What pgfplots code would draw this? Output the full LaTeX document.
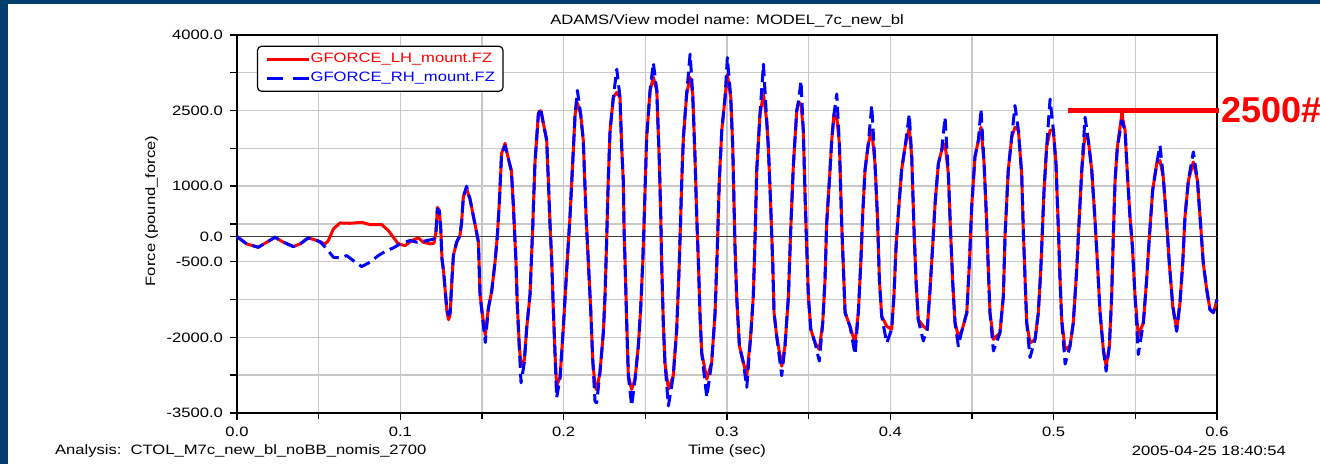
\documentclass[border=0pt]{standalone}
\usepackage{fontspec}
\setmainfont{Liberation Sans}
\newfontfamily\chartfamily[FakeStretch=1.22]{Liberation Sans}
\newcommand\chartfont{\chartfamily\fontsize{6.8pt}{8pt}\selectfont}
\usepackage{pgfplots}
\pgfplotsset{compat=1.18}
\usepackage{pgfplotstable}
\definecolor{slideblue}{RGB}{0,60,110}
\definecolor{gridgray}{RGB}{200,200,200}

% GFORCE_LH_mount.FZ (red)
\pgfplotstableread{
t F
0.0000 0
0.0059 -145
0.0130 -212
0.0182 -112
0.0233 -13
0.0284 -112
0.0345 -198
0.0386 -145
0.0437 -26
0.0478 -66
0.0539 -145
0.0559 -79
0.0590 152
0.0631 271
0.0692 264
0.0763 284
0.0814 238
0.0886 238
0.0927 119
0.0957 -13
0.0988 -145
0.1029 -178
0.1070 -79
0.1110 -26
0.1141 -112
0.1182 -145
0.1206 -132
0.1218 86
0.1227 580
0.1239 520
0.1247 185
0.1255 -443
0.1265 -700
0.1285 -1480
0.1295 -1650
0.1305 -1550
0.1315 -900
0.1325 -370
0.1345 -110
0.1365 20
0.1375 280
0.1386 800
0.1406 950
0.1420 800
0.1427 740
0.1447 410
0.1460 200
0.1478 -110
0.1488 -1150
0.1508 -1680
0.1520 -1950
0.1539 -1420
0.1559 -1090
0.1580 -500
0.1594 20
0.1606 670
0.1620 1650
0.1641 1850
0.1661 1550
0.1680 1300
0.1692 610
0.1708 -500
0.1716 -1350
0.1729 -2200
0.1739 -2550
0.1759 -2450
0.1774 -1800
0.1794 -1150
0.1810 150
0.1824 1450
0.1845 2430
0.1859 2500
0.1876 2240
0.1896 1910
0.1906 1130
0.1916 280
0.1927 -500
0.1937 -1480
0.1947 -2320
0.1957 -2970
0.1978 -2780
0.1998 -1800
0.2019 -630
0.2039 410
0.2055 1450
0.2070 2430
0.2084 2650
0.2104 2430
0.2120 1910
0.2137 410
0.2151 -500
0.2166 -1480
0.2178 -2450
0.2192 -2970
0.2202 -3040
0.2222 -2700
0.2243 -1900
0.2253 -1180
0.2263 -100
0.2273 1120
0.2284 2100
0.2304 2760
0.2325 2860
0.2345 2760
0.2355 1780
0.2365 1120
0.2370 130
0.2376 -530
0.2386 -1710
0.2396 -2760
0.2416 -3030
0.2437 -2830
0.2457 -2170
0.2471 -1450
0.2484 -530
0.2494 460
0.2508 1970
0.2529 2900
0.2549 3160
0.2570 2900
0.2586 1450
0.2594 460
0.2600 -530
0.2610 -1710
0.2620 -2500
0.2641 -3030
0.2671 -2760
0.2692 -1840
0.2708 -530
0.2723 1120
0.2733 1970
0.2753 2830
0.2774 3160
0.2790 2830
0.2804 1580
0.2814 460
0.2825 -530
0.2835 -1580
0.2845 -2300
0.2876 -2830
0.2906 -2500
0.2927 -1510
0.2941 -200
0.2953 1120
0.2968 2110
0.2988 2760
0.3002 3220
0.3023 2760
0.3035 1780
0.3049 -200
0.3059 -1180
0.3076 -2170
0.3100 -2500
0.3121 -2760
0.3145 -1970
0.3161 -1180
0.3172 0
0.3182 1320
0.3202 2430
0.3223 2830
0.3243 2300
0.3253 1780
0.3267 660
0.3280 -530
0.3288 -1510
0.3304 -1970
0.3335 -2570
0.3355 -2170
0.3376 -1180
0.3390 130
0.3406 1400
0.3427 2500
0.3437 2665
0.3453 2630
0.3467 2110
0.3478 790
0.3488 -200
0.3498 -1180
0.3513 -1840
0.3539 -2110
0.3565 -2240
0.3586 -1710
0.3600 -860
0.3610 260
0.3627 1120
0.3641 1910
0.3655 2430
0.3672 2370
0.3688 1840
0.3702 260
0.3713 -660
0.3723 -1510
0.3753 -1780
0.3784 -2110
0.3804 -1510
0.3819 -530
0.3831 460
0.3845 1320
0.3865 1840
0.3886 2110
0.3906 1450
0.3921 400
0.3933 -860
0.3947 -1580
0.3978 -1780
0.4008 -1840
0.4022 -1180
0.4035 -200
0.4049 460
0.4069 1320
0.4090 1780
0.4116 2170
0.4131 1580
0.4145 130
0.4157 -860
0.4171 -1650
0.4202 -1780
0.4226 -1840
0.4243 -1050
0.4259 -200
0.4274 660
0.4294 1450
0.4314 1710
0.4335 1840
0.4355 1250
0.4370 0
0.4382 -920
0.4396 -1710
0.4416 -1970
0.4437 -1880
0.4468 -1510
0.4484 -530
0.4498 590
0.4518 1580
0.4539 1910
0.4555 2170
0.4574 1450
0.4590 260
0.4600 -660
0.4610 -1510
0.4631 -2040
0.4671 -1910
0.4692 -1180
0.4702 0
0.4722 1320
0.4743 1970
0.4763 2170
0.4784 2110
0.4804 1250
0.4814 130
0.4825 -860
0.4835 -1710
0.4855 -2110
0.4886 -2040
0.4906 -1510
0.4921 -660
0.4931 130
0.4941 920
0.4957 1780
0.4978 2110
0.4998 2110
0.5014 1450
0.5029 130
0.5039 -860
0.5049 -1650
0.5070 -2240
0.5100 -2170
0.5120 -1710
0.5141 -660
0.5155 260
0.5172 1320
0.5192 2040
0.5212 1910
0.5233 1320
0.5253 330
0.5268 -530
0.5284 -1510
0.5304 -2240
0.5321 -2570
0.5341 -2170
0.5355 -1180
0.5365 0
0.5376 1120
0.5390 1780
0.5417 2430
0.5437 2110
0.5451 1250
0.5467 400
0.5482 -200
0.5498 -1180
0.5518 -1970
0.5549 -1710
0.5569 -860
0.5586 0
0.5606 920
0.5631 1450
0.5651 1510
0.5671 1180
0.5692 260
0.5708 -530
0.5729 -1380
0.5753 -1840
0.5773 -1320
0.5790 -530
0.5804 400
0.5825 1120
0.5855 1480
0.5880 1120
0.5896 400
0.5916 -530
0.5937 -1050
0.5957 -1450
0.5978 -1510
0.6000 -1250
}\lhtable

% GFORCE_RH_mount.FZ (blue)
\pgfplotstableread{
t F
0.0000 0
0.0059 -145
0.0130 -212
0.0182 -112
0.0233 -13
0.0284 -112
0.0345 -198
0.0386 -145
0.0437 -26
0.0478 -66
0.0508 -100
0.0550 -245
0.0590 -410
0.0630 -423
0.0672 -377
0.0712 -476
0.0763 -595
0.0814 -509
0.0865 -377
0.0916 -278
0.0957 -225
0.0998 -145
0.1059 -79
0.1100 -112
0.1141 -93
0.1182 -66
0.1206 -46
0.1218 86
0.1227 550
0.1239 500
0.1247 185
0.1255 -443
0.1265 -700
0.1285 -1450
0.1295 -1550
0.1305 -1500
0.1315 -900
0.1325 -370
0.1345 -110
0.1365 20
0.1375 280
0.1386 800
0.1406 1000
0.1420 820
0.1427 740
0.1447 410
0.1460 200
0.1478 -110
0.1488 -1150
0.1508 -1750
0.1520 -2100
0.1539 -1420
0.1559 -1090
0.1580 -500
0.1594 20
0.1606 670
0.1620 1650
0.1641 1800
0.1661 1550
0.1680 1300
0.1692 610
0.1708 -500
0.1716 -1350
0.1729 -2250
0.1739 -2900
0.1759 -2500
0.1774 -1800
0.1794 -1150
0.1810 150
0.1824 1450
0.1845 2430
0.1859 2550
0.1876 2240
0.1896 1910
0.1906 1130
0.1916 280
0.1927 -500
0.1937 -1480
0.1947 -2320
0.1957 -3200
0.1978 -2800
0.1998 -1800
0.2019 -630
0.2039 410
0.2055 1450
0.2070 2430
0.2084 2900
0.2104 2430
0.2120 1910
0.2137 410
0.2151 -500
0.2166 -1480
0.2178 -2450
0.2192 -3270
0.2202 -3300
0.2222 -2700
0.2243 -1900
0.2253 -1180
0.2263 -100
0.2273 1120
0.2284 2100
0.2304 2760
0.2325 3320
0.2345 2760
0.2355 1780
0.2365 1120
0.2370 130
0.2376 -530
0.2386 -1710
0.2396 -2760
0.2416 -3360
0.2437 -2830
0.2457 -2170
0.2471 -1450
0.2484 -530
0.2494 460
0.2508 1970
0.2529 2900
0.2549 3450
0.2570 2900
0.2586 1450
0.2594 460
0.2600 -530
0.2610 -1710
0.2620 -2500
0.2641 -3360
0.2671 -2760
0.2692 -1840
0.2708 -530
0.2723 1120
0.2733 1970
0.2753 2830
0.2774 3620
0.2790 2830
0.2804 1580
0.2814 460
0.2825 -530
0.2835 -1580
0.2845 -2300
0.2876 -3190
0.2906 -2500
0.2927 -1510
0.2941 -200
0.2953 1120
0.2968 2110
0.2988 2760
0.3002 3550
0.3023 2760
0.3035 1780
0.3049 -200
0.3059 -1180
0.3076 -2170
0.3100 -2500
0.3121 -2990
0.3145 -1970
0.3161 -1180
0.3172 0
0.3182 1320
0.3202 2430
0.3223 3420
0.3243 2300
0.3253 1780
0.3267 660
0.3280 -530
0.3288 -1510
0.3304 -1970
0.3335 -2760
0.3355 -2170
0.3376 -1180
0.3390 130
0.3406 1400
0.3427 2500
0.3437 2665
0.3453 3090
0.3467 2110
0.3478 790
0.3488 -200
0.3498 -1180
0.3513 -1840
0.3539 -2110
0.3565 -2470
0.3586 -1710
0.3600 -860
0.3610 260
0.3627 1120
0.3641 1910
0.3655 2430
0.3672 2830
0.3688 1840
0.3702 260
0.3713 -660
0.3723 -1510
0.3753 -1780
0.3784 -2340
0.3804 -1510
0.3819 -530
0.3831 460
0.3845 1320
0.3865 1840
0.3886 2600
0.3906 1450
0.3921 400
0.3933 -860
0.3947 -1580
0.3978 -2110
0.4008 -1840
0.4022 -1180
0.4035 -200
0.4049 460
0.4069 1320
0.4090 1780
0.4116 2430
0.4131 1580
0.4145 130
0.4157 -860
0.4171 -1650
0.4202 -2070
0.4226 -1840
0.4243 -1050
0.4259 -200
0.4274 660
0.4294 1450
0.4314 1710
0.4335 2370
0.4355 1250
0.4370 0
0.4382 -920
0.4396 -1710
0.4416 -2170
0.4437 -1880
0.4468 -1510
0.4484 -530
0.4498 590
0.4518 1580
0.4539 1910
0.4555 2530
0.4574 1450
0.4590 260
0.4600 -660
0.4610 -1510
0.4631 -2270
0.4671 -1910
0.4692 -1180
0.4702 0
0.4722 1320
0.4743 1970
0.4763 2600
0.4784 2110
0.4804 1250
0.4814 130
0.4825 -860
0.4835 -1710
0.4855 -2400
0.4886 -2040
0.4906 -1510
0.4921 -660
0.4931 130
0.4941 920
0.4957 1780
0.4978 2730
0.4998 2110
0.5014 1450
0.5029 130
0.5039 -860
0.5049 -1650
0.5070 -2530
0.5100 -2170
0.5120 -1710
0.5141 -660
0.5155 260
0.5172 1320
0.5192 2370
0.5212 1910
0.5233 1320
0.5253 330
0.5268 -530
0.5284 -1510
0.5304 -2240
0.5321 -2670
0.5341 -2170
0.5355 -1180
0.5365 0
0.5376 1120
0.5390 1780
0.5417 2300
0.5437 2110
0.5451 1250
0.5467 400
0.5482 -200
0.5498 -1180
0.5518 -2340
0.5549 -1710
0.5569 -860
0.5586 0
0.5606 920
0.5631 1450
0.5651 1810
0.5671 1180
0.5692 260
0.5708 -530
0.5729 -1380
0.5753 -1880
0.5773 -1320
0.5790 -530
0.5804 400
0.5825 1120
0.5855 1680
0.5880 1120
0.5896 400
0.5916 -530
0.5937 -1050
0.5957 -1450
0.5978 -1510
0.6000 -1250
}\rhtable

\begin{document}
\begin{tikzpicture}
\useasboundingbox (0,0) rectangle (660pt,232pt);
% slide background and white picture area
\fill[slideblue] (0,0) rectangle (660pt,232pt);
\fill[white] (4pt,0) rectangle (660pt,230pt);

\begin{axis}[
  at={(118.5pt,25.5pt)}, anchor=south west,
  scale only axis, width=490pt, height=189pt,
  xmin=0, xmax=0.6, ymin=-3500, ymax=4000,
  xtick={0,0.1,0.2,0.3,0.4,0.5,0.6},
  xticklabels={0.0,0.1,0.2,0.3,0.4,0.5,0.6},
  minor xtick={0.05,0.15,0.25,0.35,0.45,0.55},
  ytick={-3500,-2750,-2000,-1250,-500,0,250,1000,1750,2500,3250,4000},
  yticklabels={-3500.0,,-2000.0,,-500.0,0.0,,1000.0,,2500.0,,4000.0},
  grid=both,
  major grid style={gridgray, line width=0.7pt},
  minor grid style={gridgray, line width=0.7pt},
  tick align=outside, tick pos=left,
  major tick length=3.5pt, minor tick length=3pt,
  tick style={black, line width=0.7pt},
  axis line style={black, line width=0.8pt},
  ticklabel style={font=\chartfont, black},
  /pgf/number format/assume math mode=true,
  clip=false,
  legend cell align=left,
  legend style={at={(0.0204,0.9717)}, anchor=north west,
    draw=black, line width=0.6pt, rounded corners=2pt, fill=white,
    font=\chartfont, inner xsep=4pt, inner ysep=1.5pt, row sep=-1pt,
    nodes={inner xsep=0pt}},
  legend image code/.code={\draw[#1] (0pt,0pt) -- (21pt,0pt);},
]
\draw[black!75, line width=0.6pt] (axis cs:0,0) -- (axis cs:0.6,0);
\addlegendimage{red, line width=1.5pt}
\addlegendentry{\textcolor{red}{GFORCE\_LH\_mount.FZ}}
\addlegendimage{blue, line width=1.5pt, dash pattern=on 8pt off 5pt}
\addlegendentry{\textcolor{blue}{GFORCE\_RH\_mount.FZ}}
\addplot[red, line width=1.5pt, line join=round, forget plot] table[x=t, y=F] {\lhtable};
\addplot[blue, line width=1.5pt, line join=round, dash pattern=on 6pt off 3pt, forget plot] table[x=t, y=F] {\rhtable};
% 2500 lb marker
\draw[red, line width=2.8pt] (axis cs:0.509,2500) -- (axis cs:0.6015,2500);
\draw[red, line width=1.6pt] (axis cs:0.5418,2500) -- (axis cs:0.5418,2360);
\node[red, anchor=west, inner sep=0pt, font=\fontsize{18pt}{20pt}\selectfont\bfseries] at (axis cs:0.6025,2500) {2500\#};
\end{axis}

\node[font=\chartfont] at (363.5pt,221.3pt) {ADAMS/View model name: MODEL\_7c\_new\_bl};
\node[font=\chartfont] at (363.5pt,6.5pt) {Time (sec)};
\node[font=\chartfont, anchor=west] at (24pt,6.5pt) {Analysis:\ \ CTOL\_M7c\_new\_bl\_noBB\_nomis\_2700};
\node[font=\chartfont, anchor=east] at (646.5pt,6.5pt) {2005-04-25 18:40:54};
\node[font=\chartfont, rotate=90] at (75.75pt,126.5pt) {Force (pound\_force)};
\end{tikzpicture}
\end{document}
